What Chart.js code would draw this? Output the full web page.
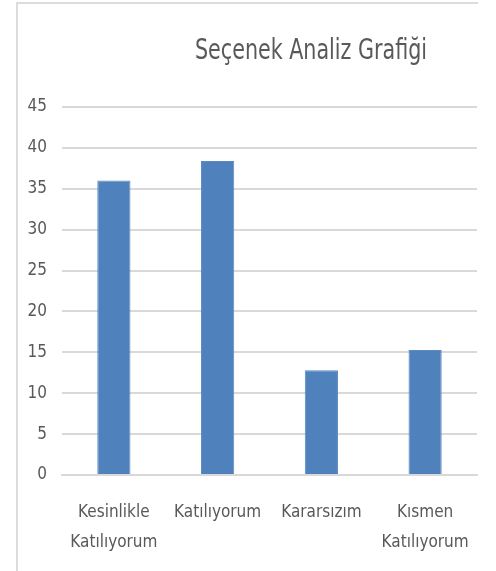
<!DOCTYPE html>
<html>
<head>
<meta charset="utf-8">
<script src="https://cdn.jsdelivr.net/npm/chart.js@4"></script>
<style>
  html,body{margin:0;padding:0;background:#fff;}
  #wrap{position:relative;width:496px;height:571px;overflow:hidden;}
  #frame{position:absolute;left:16px;top:2px;width:462px;height:600px;border-top:2px solid #dcdcdc;border-left:2px solid #dcdcdc;box-sizing:border-box;}
  canvas{position:absolute;left:0;top:0;}
</style>
</head>
<body>
<div id="wrap">
  <div id="frame"></div>
  <canvas id="c" width="496" height="571"></canvas>
</div>
<script>
const chartTitle = "Seçenek Analiz Grafiği";
const categories = [["Kesinlikle", "Katılıyorum"], "Katılıyorum", "Kararsızım", ["Kısmen", "Katılıyorum"]];
const values = [36, 38.4, 12.8, 15.3];
const yTicks = [0, 5, 10, 15, 20, 25, 30, 35, 40, 45];

const FONT = "'Liberation Sans Narrow', 'DejaVu Sans Condensed', 'Arial Narrow', sans-serif";
const TEXT = "#595959";

const titlePlugin = {
  id: 'customTitle',
  afterDraw(chart) {
    const ctx = chart.ctx;
    ctx.save();
    ctx.font = "28px " + FONT;
    ctx.fillStyle = TEXT;
    ctx.textAlign = "center";
    ctx.textBaseline = "alphabetic";
    ctx.translate(311, 59);
    ctx.scale(0.82, 1);
    ctx.fillText(chartTitle, 0, 0);
    ctx.restore();
  }
};

new Chart(document.getElementById('c'), {
  type: 'bar',
  data: {
    labels: categories,
    datasets: [{
      data: values,
      backgroundColor: '#4F81BD',
      borderColor: '#5B8AC3',
      borderWidth: 1,
      barPercentage: 0.32,
      categoryPercentage: 1
    }]
  },
  options: {
    responsive: false,
    animation: false,
    layout: { padding: { top: 107, right: 19, bottom: 0, left: 0 } },
    plugins: { legend: { display: false }, title: { display: false }, tooltip: { enabled: false } },
    scales: {
      x: {
        grid: { display: false, drawTicks: false },
        border: { display: true, color: '#d9d9d9', width: 2 },
        ticks: { color: TEXT, font: { family: FONT, size: 17, lineHeight: 1.8 }, padding: 22, maxRotation: 0, autoSkip: false },
        afterFit(scale) { scale.height = 96; }
      },
      y: {
        min: 0, max: 45,
        afterBuildTicks(scale) { scale.ticks = yTicks.map(v => ({ value: v })); },
        grid: { color: '#d9d9d9', lineWidth: 2, drawTicks: false },
        border: { display: false },
        ticks: { color: TEXT, font: { family: FONT, size: 17 }, padding: 15 },
        afterFit(scale) { scale.width = 62; }
      }
    }
  },
  plugins: [titlePlugin]
});
</script>
</body>
</html>
